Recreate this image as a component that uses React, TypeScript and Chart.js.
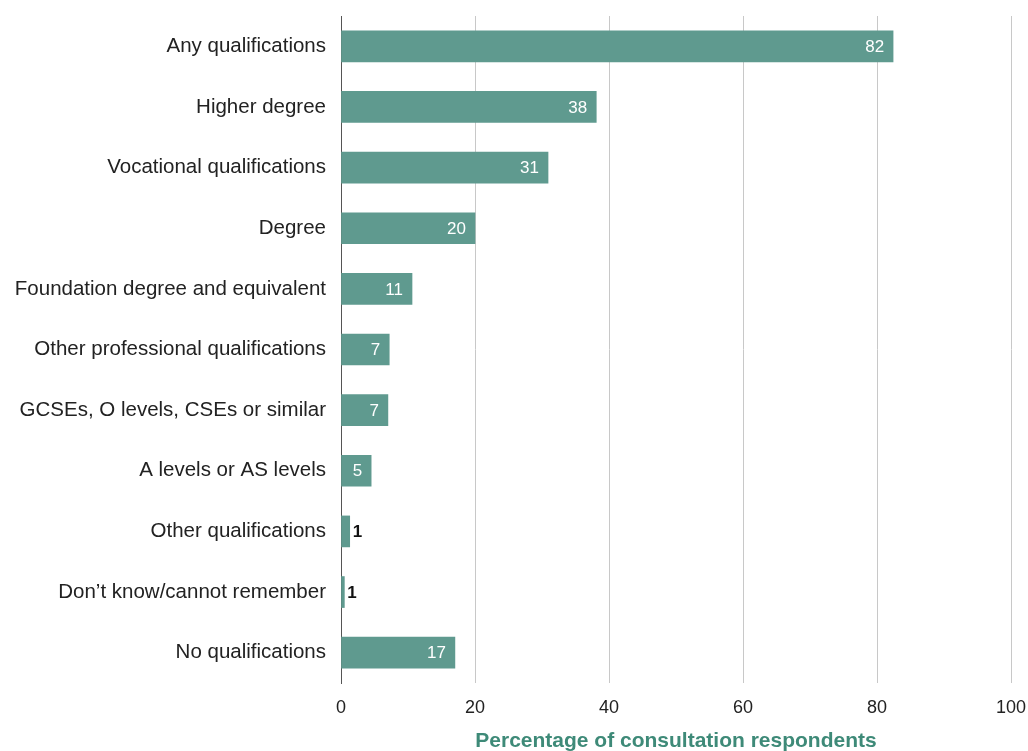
import React, { useEffect, useRef } from "react";
import { Chart, registerables } from "chart.js";

Chart.register(...registerables);

const categories = [
  "Any qualifications",
  "Higher degree",
  "Vocational qualifications",
  "Degree",
  "Foundation degree and equivalent",
  "Other professional qualifications",
  "GCSEs, O levels, CSEs or similar",
  "A levels or AS levels",
  "Other qualifications",
  "Don\u2019t know/cannot remember",
  "No qualifications",
];

const values = [82.4, 38.1, 30.9, 20.0, 10.6, 7.2, 7.0, 4.5, 1.3, 0.5, 17.0];
const valueLabels = ["82", "38", "31", "20", "11", "7", "7", "5", "1", "1", "17"];
const xTicks = [0, 20, 40, 60, 80, 100];

const FONT = "'Liberation Sans', Arial, Helvetica, sans-serif";
const BAR_COLOR = "#5f9a8f";
const TITLE_COLOR = "#3e8a78";

const valueLabelPlugin = {
  id: "valueLabels",
  afterDatasetsDraw(chart: any) {
    const ctx = chart.ctx;
    const meta = chart.getDatasetMeta(0);
    ctx.save();
    ctx.textBaseline = "middle";
    meta.data.forEach((bar: any, i: number) => {
      const v = values[i];
      const label = valueLabels[i];
      if (v < 3) {
        ctx.font = `bold 17px ${FONT}`;
        ctx.fillStyle = "#111";
        ctx.textAlign = "left";
        ctx.fillText(label, bar.x + 3, bar.y + 1);
      } else {
        ctx.font = `17px ${FONT}`;
        ctx.fillStyle = "#ffffff";
        ctx.textAlign = "right";
        ctx.fillText(label, bar.x - 9, bar.y + 1);
      }
    });
    ctx.restore();
  },
};

export default function App() {
  const ref = useRef<HTMLCanvasElement | null>(null);

  useEffect(() => {
    if (!ref.current) return;
    const chart = new Chart(ref.current, {
      type: "bar",
      data: {
        labels: categories,
        datasets: [
          {
            data: values,
            backgroundColor: BAR_COLOR,
            barThickness: 31,
            borderWidth: 0,
          },
        ],
      },
      options: {
        indexAxis: "y",
        animation: false,
        responsive: false,
        maintainAspectRatio: false,
        layout: { padding: { top: 16, right: 17, bottom: 0, left: 0 } },
        plugins: {
          legend: { display: false },
          tooltip: { enabled: false },
        },
        scales: {
          x: {
            min: 0,
            max: 100,
            afterBuildTicks: (scale: any) => {
              scale.ticks = xTicks.map((v) => ({ value: v }));
            },
            afterFit: (scale: any) => {
              scale.height = 68;
              scale.paddingLeft = 0;
              scale.paddingRight = 0;
            },
            grid: {
              color: (c: any) => (c.tick && c.tick.value === 0 ? "#555" : "#c8c8c8"),
              drawTicks: false,
              lineWidth: 1,
            },
            border: { display: false },
            ticks: {
              padding: 14,
              color: "#222",
              font: { family: FONT, size: 18 },
            },
            title: {
              display: true,
              text: "Percentage of consultation respondents",
              color: TITLE_COLOR,
              font: { family: FONT, size: 21, weight: "bold" },
              padding: { top: 0, bottom: -3 },
            },
          },
          y: {
            afterFit: (scale: any) => {
              scale.width = 341;
              scale.paddingTop = 0;
              scale.paddingBottom = 0;
            },
            grid: { display: false, drawTicks: false },
            border: { display: true, color: "#555", width: 1 },
            ticks: {
              padding: 15,
              color: "#222",
              font: { family: FONT, size: 20.5 },
            },
          },
        },
      },
      plugins: [valueLabelPlugin],
    });
    return () => chart.destroy();
  }, []);

  return (
    <div style={{ position: "fixed", left: 0, top: 0, width: 1028, height: 751, background: "#fff" }}>
      <canvas ref={ref} width={1028} height={751} style={{ display: "block" }} />
    </div>
  );
}
